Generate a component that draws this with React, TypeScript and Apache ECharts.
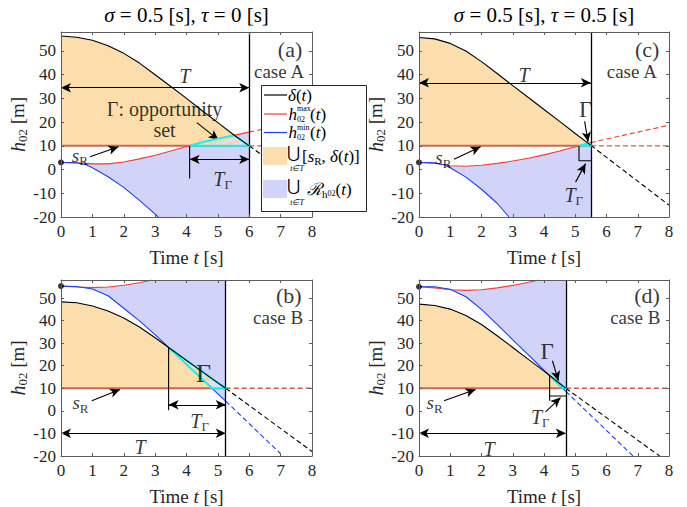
import React, { useEffect, useRef } from 'react';
import * as echarts from 'echarts';

const F = 'Liberation Serif';

// ---------- common ----------
const sR = 10;
const xTicks = [0, 8];
const yRange = [-20, 58];

// ---------- panel (a): sigma=0.5, tau=0, case A ----------
const TA = 6;
const tA = [0, 0.5, 1, 1.5, 2, 2.5, 3, 3.5, 4, 4.5, 5, 5.5, 6];
const deltaA = [56.3, 55.8, 54.5, 52.2, 49, 44.9, 40, 35, 30, 24.8, 19.8, 14.7, 10];
const hmaxA = [3, 2.8, 2.4, 2.4, 3.2, 4.5, 6, 7.8, 9.7, 11.5, 13, 14.4, 15.8];
const tMinA = [0, 0.5, 0.8, 1, 1.5, 2, 2.5, 3, 3.1];
const hminA = [3, 2.9, 2, 0.8, -3, -7.5, -13, -18.8, -20];
const deltaDashA = [[6, 10], [8, -9]];
const hmaxDashA = [[6, 15.8], [8, 21.4]];
const gammaA = [[4.1, 10], [4.5, 11.5], [5, 13], [5.5, 14.4], [5.52, 14.47], [6, 10]];
const startA = [0, 3];

// ---------- panel (b): sigma=0.5, tau=0, case B ----------
const TB = 5.25;
const tB = [0, 0.5, 1, 1.5, 2, 2.5, 3, 3.43, 4, 4.5, 5, 5.25];
const deltaB = [48.3, 47.9, 46.5, 44.3, 41.2, 37.2, 32.4, 28.1, 22.4, 17.4, 12.4, 10];
const tMaxB = [0, 0.5, 1, 1.5, 2, 2.5, 2.9];
const hmaxB = [55.3, 54.9, 54.6, 54.9, 55.7, 56.8, 58];
const hminB = [55.3, 55.1, 54, 51, 45.5, 39.9, 33.8, 28.1, 20.6, 14.1, 7.5, 4.3];
const deltaDashB = [[5.25, 10], [8, -18]];
const hminDashB = [[5.25, 4.3], [7, -19]];
const gammaB = [[3.43, 28.1], [4, 22.4], [4.5, 17.4], [5, 12.4], [5.25, 10], [4.82, 10], [4.5, 14.1], [4, 20.6]];
const startB = [0, 55.3];

// ---------- panel (c): sigma=0.5, tau=0.5, case A ----------
const TC = 5.5;
const tC = [0, 0.5, 1, 1.5, 2, 2.5, 3, 3.5, 4, 4.5, 5, 5.5];
const deltaC = [55.7, 55.1, 53.2, 50, 45.5, 40.5, 35.4, 30.4, 25.3, 20.3, 15.2, 10.2];
const hmaxC = [3, 2.7, 1.6, 1.4, 1.8, 2.6, 3.6, 4.8, 6.2, 7.8, 9.6, 11.4];
const tMinC = [0, 0.5, 0.8, 1, 1.5, 2, 2.5, 2.88];
const hminC = [3, 2.8, 2, 0.8, -3.2, -8.3, -14.2, -20];
const deltaDashC = [[5.5, 10.2], [8, -15]];
const hmaxDashC = [[5.5, 11.4], [8, 18.7]];
const gammaC = [[5.11, 10], [5.42, 11.1], [5.5, 10.2], [5.5, 10]];
const startC = [0, 3];

// ---------- panel (d): sigma=0.5, tau=0.5, case B ----------
const TD = 4.7;
const tD = [0, 0.5, 1, 1.5, 2, 2.5, 3, 3.5, 4, 4.15, 4.7];
const deltaD = [47.3, 46.7, 45.1, 42.3, 38.3, 33.3, 28.1, 22.8, 17.6, 16, 10];
const tMaxD = [0, 0.5, 1, 1.5, 2, 2.5, 3, 3.5, 3.85];
const hmaxD = [55, 54.5, 53.7, 53.4, 53.7, 54.5, 55.6, 57, 58];
const hminD = [55, 55, 53.9, 50.6, 45, 38.3, 31.5, 24.8, 18, 16, 8.6];
const deltaDashD = [[4.7, 10], [7.7, -20]];
const hminDashD = [[4.7, 8.6], [6.85, -20]];
const gammaD = [[4.15, 16], [4.7, 10], [4.6, 10]];
const startD = [0, 55];

const zip = (t: number[], v: number[]) => t.map((x, i) => [x, v[i]]);

// ---------- styles ----------
const C_BLACK = '#000000';
const C_RED = '#f23c36';
const C_BLUE = '#1c3cff';
const C_SR = '#c8685d';
const C_SRD = '#c85a50';
const C_ORANGE = '#fcdeac';
const C_LAV = '#d1d4f8';
const C_CYAN = '#1ef0f0';
const C_AXIS = '#5c5c5c';

const rich: any = {
  i: { fontFamily: F, fontStyle: 'italic', fontSize: 20, color: '#000' },
  si: { fontFamily: F, fontStyle: 'italic', fontSize: 19, color: '#000' },
  r: { fontFamily: F, fontSize: 19, color: '#000' },
  rc: { fontFamily: F, fontSize: 20, color: '#000', lineHeight: 21 },
  rl: { fontFamily: F, fontSize: 22, color: '#000' },
  s: { fontFamily: F, fontSize: 13, color: '#000', padding: [11, 0, 0, 0] },
  gb: { fontFamily: F, fontSize: 26, color: '#000' },
  gm: { fontFamily: F, fontSize: 23, color: '#000' },
};

type Panel = {
  T: number;
  delta: number[][];
  hmax: number[][];
  hmin: number[][];
  deltaDash: number[][];
  hmaxDash?: number[][];
  hminDash?: number[][];
  gamma: number[][];
  gammaStriped: boolean;
  start: number[];
  caseB: boolean;
  texts: [number, number, string][];
  arrows: [number[], number[], boolean][];
  plain: number[][][];
};

const panels: Panel[] = [
  {
    T: TA, delta: zip(tA, deltaA), hmax: zip(tA, hmaxA), hmin: zip(tMinA, hminA),
    deltaDash: deltaDashA, hmaxDash: hmaxDashA, gamma: gammaA, gammaStriped: true, start: startA, caseB: false,
    texts: [
      [7.3, 50.8, '{rl|(a)}'],
      [6.95, 41.5, '{r|case A}'],
      [3.95, 39.6, '{i|T}'],
      [3.3, 20.9, '{rc|Γ: opportunity}\n{rc|set}'],
      [5.15, -3.8, '{i|T}{s|Γ}'],
      [0.6, 6.0, '{si|s}{s|R}'],
    ],
    arrows: [
      [[0, 34.5], [6, 34.5], true],
      [[4.33, 19.8], [5.02, 12.5], false],
      [[4.1, 4.3], [6, 4.3], true],
      [[0.93, 5.4], [1.83, 9.6], false],
    ],
    plain: [[[4.1, 10], [4.1, -3.8]]],
  },
  {
    T: TB, delta: zip(tB, deltaB), hmax: zip(tMaxB, hmaxB), hmin: zip(tB, hminB),
    deltaDash: deltaDashB, hminDash: hminDashB, gamma: gammaB, gammaStriped: true, start: startB, caseB: true,
    texts: [
      [7.26, 51.1, '{rl|(b)}'],
      [6.92, 41.2, '{r|case B}'],
      [2.52, -15.9, '{i|T}'],
      [4.42, -4.6, '{i|T}{s|Γ}'],
      [4.54, 16.5, '{gb|Γ}'],
      [0.62, 3.6, '{si|s}{s|R}'],
    ],
    arrows: [
      [[0, -9.9], [5.25, -9.9], true],
      [[3.43, 2.7], [5.25, 2.7], true],
      [[0.98, 4.5], [1.88, 9.5], false],
    ],
    plain: [[[3.43, 28.1], [3.43, 0.3]]],
  },
  {
    T: TC, delta: zip(tC, deltaC), hmax: zip(tC, hmaxC), hmin: zip(tMinC, hminC),
    deltaDash: deltaDashC, hmaxDash: hmaxDashC, gamma: gammaC, gammaStriped: false, start: startC, caseB: false,
    texts: [
      [7.3, 50.8, '{rl|(c)}'],
      [6.81, 41.5, '{r|case A}'],
      [3.36, 39.9, '{i|T}'],
      [5.33, 25.2, '{gm|Γ}'],
      [4.95, -10.8, '{i|T}{s|Γ}'],
      [0.78, 4.9, '{si|s}{s|R}'],
    ],
    arrows: [
      [[0, 36.6], [5.5, 36.6], true],
      [[5.3, 20.3], [5.41, 11.7], false],
      [[5.01, -5.3], [5.33, 2.5], false],
      [[1.12, 4.3], [1.97, 9.6], false],
    ],
    plain: [[[5.12, 10], [5.12, 3.7], [5.5, 3.7]]],
  },
  {
    T: TD, delta: zip(tD, deltaD), hmax: zip(tMaxD, hmaxD), hmin: zip(tD, hminD),
    deltaDash: deltaDashD, hminDash: hminDashD, gamma: gammaD, gammaStriped: false, start: startD, caseB: true,
    texts: [
      [7.3, 51.1, '{rl|(d)}'],
      [6.92, 41.2, '{r|case B}'],
      [2.24, -16.7, '{i|T}'],
      [4.1, 26.4, '{gm|Γ}'],
      [3.88, -2.5, '{i|T}{s|Γ}'],
      [0.5, 3.6, '{si|s}{s|R}'],
    ],
    arrows: [
      [[0, -9.9], [4.7, -9.9], true],
      [[4.27, 22.2], [4.46, 13.3], false],
      [[4.05, -0.4], [4.53, 5.9], false],
      [[0.8, 4.5], [1.81, 9.5], false],
    ],
    plain: [[[4.18, 15.8], [4.18, 4.5]], [[4.18, 6.6], [4.7, 6.6]]],
  },
];

const grids = [
  { left: 61, top: 32, width: 251, height: 185 },
  { left: 61, top: 280, width: 251, height: 185 },
  { left: 419, top: 32, width: 250, height: 185 },
  { left: 419, top: 280, width: 250, height: 185 },
];

function stripes() {
  const stops: any[] = [];
  const N = 9;
  for (let k = 0; k < N; k++) {
    const c = k % 2 === 0 ? '#dedef4' : '#f8d6a4';
    stops.push({ offset: k / N, color: c });
    stops.push({ offset: (k + 1) / N - 0.0001, color: c });
  }
  return new echarts.graphic.LinearGradient(0, 0, 1, 0.6, stops);
}

function buildOption() {
  const xAxis: any[] = [];
  const yAxis: any[] = [];
  const series: any[] = [];

  grids.forEach((_, g) => {
    for (const top of [false, true]) {
      xAxis.push({
        gridIndex: g, type: 'value', min: xTicks[0], max: xTicks[1], interval: 1,
        position: top ? 'top' : 'bottom', z: 10,
        axisLine: { show: true, onZero: false, lineStyle: { color: C_AXIS, width: 1 } },
        axisTick: { show: true, inside: true, length: 3, lineStyle: { color: C_AXIS } },
        axisLabel: { show: !top, color: '#262626', fontFamily: F, fontSize: 17, margin: 6 },
        splitLine: { show: false },
        name: top ? '' : '{r|Time }{i|t}{r| [s]}',
        nameLocation: 'middle', nameGap: 31,
        nameTextStyle: { rich: { r: { fontFamily: F, fontSize: 19, color: '#262626' }, i: { fontFamily: F, fontSize: 19, fontStyle: 'italic', color: '#262626' } } },
      });
      yAxis.push({
        gridIndex: g, type: 'value', min: yRange[0], max: yRange[1], interval: 10,
        position: top ? 'right' : 'left', z: 10,
        axisLine: { show: true, onZero: false, lineStyle: { color: C_AXIS, width: 1 } },
        axisTick: { show: true, inside: true, length: 3, lineStyle: { color: C_AXIS } },
        axisLabel: { show: !top, color: '#262626', fontFamily: F, fontSize: 17, margin: 5, showMaxLabel: false },
        splitLine: { show: false },
        name: top ? '' : '{i|h}{s|02}{r| [m]}',
        nameLocation: 'middle', nameGap: 32,
        nameTextStyle: {
          rich: {
            r: { fontFamily: F, fontSize: 19, color: '#262626' },
            i: { fontFamily: F, fontSize: 20, fontStyle: 'italic', color: '#262626' },
            s: { fontFamily: F, fontSize: 13, color: '#262626', padding: [10, 0, 0, 0] },
          },
        },
      });
    }
  });

  panels.forEach((p, g) => {
    const xi = 2 * g;
    const yi = 2 * g;
    const base = { xAxisIndex: xi, yAxisIndex: yi, silent: true, animation: false };
    const poly = (pts: number[][], fill: any, stroke: string | null, lw: number, z: number) => ({
      ...base, type: 'custom', coordinateSystem: 'cartesian2d', clip: true, z,
      data: [[0, 0]],
      renderItem: (_params: any, api: any) => ({
        type: 'polygon',
        shape: { points: pts.map((q) => api.coord(q)) },
        style: { fill, stroke: stroke || 'none', lineWidth: lw, lineJoin: 'round' },
      }),
    });
    const line = (data: number[][], color: string, width: number, dashed: boolean, z: number, extra: any = {}) => ({
      ...base, type: 'line', data, symbol: 'none', z,
      lineStyle: { color, width, type: dashed ? [5, 3] : 'solid' },
      ...extra,
    });

    // fills
    series.push(poly([...p.delta, [p.T, sR], [0, sR]], C_ORANGE, null, 0, 1));
    const corner = [p.T, p.caseB ? yRange[1] : yRange[0]];
    const upper = [...p.hmax, corner];
    series.push(poly([...upper, ...p.hmin.slice().reverse()], C_LAV, null, 0, 1));

    // lines
    series.push(line([[0, sR], [p.T, sR]], C_SR, 2, false, 3));
    series.push(line([[p.T, sR], [xTicks[1], sR]], C_SRD, 1.4, true, 3));
    series.push(line(p.hmax, C_RED, 1.1, false, 4));
    if (p.hmaxDash) series.push(line(p.hmaxDash, C_RED, 1.1, true, 4));
    series.push(line(p.hmin, C_BLUE, 1.1, false, 4));
    if (p.hminDash) series.push(line(p.hminDash, C_BLUE, 1.1, true, 4));
    series.push(line(p.deltaDash, C_BLACK, 1.1, true, 4));

    // gamma
    series.push(poly(p.gamma, p.gammaStriped ? stripes() : C_CYAN, C_CYAN, 2, 5));

    // delta with T line and arrows
    const ml: any[] = [{ xAxis: p.T, lineStyle: { color: '#000', width: 1.3, type: 'solid' } }];
    p.arrows.forEach(([a, b, both]) => {
      ml.push([
        { coord: a, symbol: both ? 'arrow' : 'none' },
        { coord: b, symbol: 'arrow' },
      ]);
    });
    series.push(line(p.delta, C_BLACK, 1.1, false, 6, {
      markLine: {
        silent: true, animation: false, symbol: ['none', 'none'], symbolSize: [7, 10], precision: 4,
        label: { show: false },
        lineStyle: { color: '#000', width: 1.1, type: 'solid' },
        emphasis: { disabled: true },
        data: ml,
      },
    }));

    p.plain.forEach((pl) => series.push(line(pl, C_BLACK, 1.1, false, 6)));

    // start dot
    series.push({ ...base, type: 'scatter', data: [p.start], symbolSize: 6, itemStyle: { color: '#000' }, z: 7 });

    // text labels
    series.push({
      ...base, type: 'scatter', symbolSize: 0, z: 8,
      data: p.texts.map(([x, y, f]) => ({
        value: [x, y],
        label: { show: true, position: 'inside', formatter: f, rich, align: 'center', verticalAlign: 'middle' },
      })),
    });
  });

  // legend
  const lr: any = {
    i: { fontFamily: F, fontStyle: 'italic', fontSize: 17, color: '#000' },
    r: { fontFamily: F, fontSize: 17, color: '#000' },
    s: { fontFamily: F, fontSize: 11, color: '#000', padding: [9, 0, 0, 0] },
    ss: { fontFamily: F, fontSize: 8, color: '#000', padding: [9, 0, 0, 0] },
  };
  const T = (x: number, y: number, text: string, opts: any = {}) => ({
    type: 'text', x, y, z: 101,
    style: { text, rich: lr, align: 'left', verticalAlign: 'middle', font: `17px ${F}`, fill: '#000', ...opts },
  });
  const legend = {
    type: 'group', z: 100,
    children: [
      { type: 'rect', z: 100, shape: { x: 261.5, y: 85.5, width: 105, height: 126 }, style: { fill: '#fff', stroke: '#262626', lineWidth: 1 } },
      { type: 'line', z: 101, shape: { x1: 264, y1: 95, x2: 287, y2: 95 }, style: { stroke: C_BLACK, lineWidth: 1.2 } },
      T(288, 95, '{i|δ}{r|(}{i|t}{r|)}'),
      { type: 'line', z: 101, shape: { x1: 264, y1: 114, x2: 287, y2: 114 }, style: { stroke: C_RED, lineWidth: 1.2 } },
      T(288.5, 114, '{i|h}'),
      T(297, 108.5, 'max', { font: `8px ${F}` }),
      T(297, 119, '02', { font: `8px ${F}` }),
      T(310, 114, '{r|(}{i|t}{r|)}'),
      { type: 'line', z: 101, shape: { x1: 264, y1: 132.5, x2: 287, y2: 132.5 }, style: { stroke: C_BLUE, lineWidth: 1.2 } },
      T(288.5, 132.5, '{i|h}'),
      T(297, 127.5, 'min', { font: `8px ${F}` }),
      T(297, 137.5, '02', { font: `8px ${F}` }),
      T(310, 132.5, '{r|(}{i|t}{r|)}'),
      { type: 'rect', z: 101, shape: { x: 263, y: 147, width: 24, height: 18 }, style: { fill: C_ORANGE } },
      T(293, 152, '⋃', { font: `16px DejaVu Serif`, align: 'center' }),
      T(297, 168.5, 't∈T', { font: `italic 8px ${F}`, align: 'center' }),
      T(302, 156.5, '{r|[}{i|s}{s|R}{r|, }{i|δ}{r|(}{i|t}{r|)]}'),
      { type: 'rect', z: 101, shape: { x: 263, y: 180, width: 24, height: 18 }, style: { fill: C_LAV } },
      T(293, 185, '⋃', { font: `16px DejaVu Serif`, align: 'center' }),
      T(297, 202, 't∈T', { font: `italic 8px ${F}`, align: 'center' }),
      T(307, 189, '{i|ℛ}{s|h}{ss|02}{r|(}{i|t}{r|)}'),
    ],
  };

  const tr: any = {
    i: { fontFamily: F, fontStyle: 'italic', fontSize: 21, color: '#000' },
    r: { fontFamily: F, fontSize: 21, color: '#000' },
  };
  const titles = [
    { type: 'text', x: 186.5, y: 15, z: 101, style: { text: '{i|σ}{r| = 0.5 [s], }{i|τ}{r| = 0 [s]}', rich: tr, align: 'center', verticalAlign: 'middle' } },
    { type: 'text', x: 544, y: 15, z: 101, style: { text: '{i|σ}{r| = 0.5 [s], }{i|τ}{r| = 0.5 [s]}', rich: tr, align: 'center', verticalAlign: 'middle' } },
  ];

  return {
    animation: false,
    backgroundColor: '#ffffff',
    textStyle: { fontFamily: F },
    grid: grids,
    xAxis,
    yAxis,
    series,
    graphic: [legend, ...titles],
  };
}

export default function App() {
  const ref = useRef<HTMLDivElement>(null);
  useEffect(() => {
    const chart = echarts.init(ref.current as HTMLDivElement, null, { renderer: 'svg' });
    chart.setOption(buildOption() as any);
    return () => chart.dispose();
  }, []);
  return (
    <div
      ref={ref}
      style={{ position: 'fixed', left: 0, top: 0, width: 687, height: 507, background: '#fff' }}
    />
  );
}
